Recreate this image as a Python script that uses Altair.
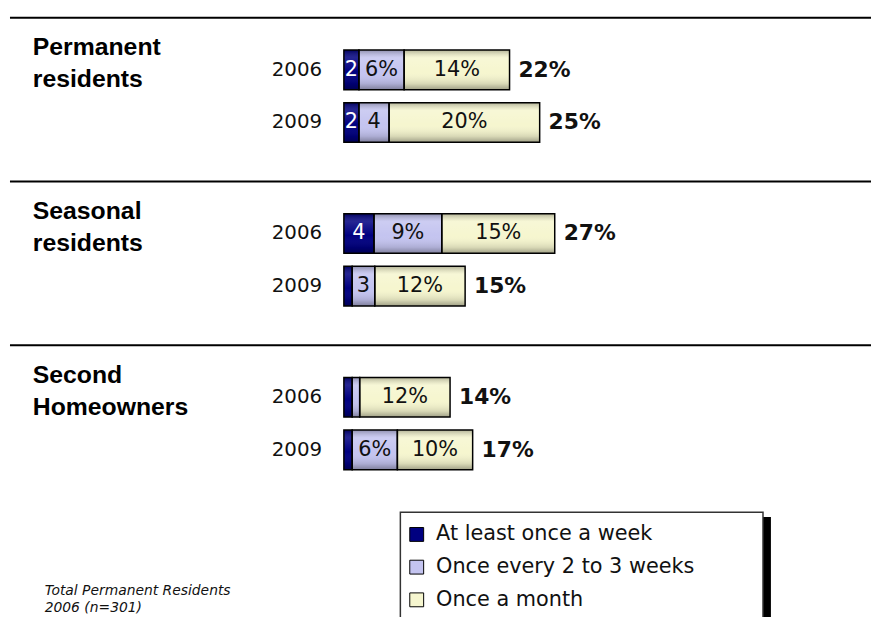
import altair as alt
import pandas as pd

# ---- data ----
groups = ["Permanent\nresidents", "Seasonal\nresidents", "Second\nHomeowners"]
years = ["2006", "2009"]
categories = ["At least once a week", "Once every 2 to 3 weeks", "Once a month"]
# one value per group-year row: Perm06, Perm09, Seas06, Seas09, Sec06, Sec09
weekly = [2, 2, 4, 1.1, 1.1, 1.1]
biweekly = [6, 4, 9, 3, 1.0, 6]
monthly = [14, 20, 15, 12, 12, 10]
weekly_labels = ["2", "2", "4", "", "", ""]
biweekly_labels = ["6%", "4", "9%", "3", "", "6%"]
monthly_labels = ["14%", "20%", "15%", "12%", "12%", "10%"]
totals = ["22%", "25%", "27%", "15%", "14%", "17%"]
colors = ["#000080", "#c4c4f0", "#f6f6cf"]
footnote = "Total Permanent Residents\n2006 (n=301)"

# ---- layout ----
W, H = 532, 607
UNIT = 54.0          # px per row slot
PERIOD = 168.0 / UNIT
XMAX = W / 7.6
YMAX = H / UNIT

seg_vals = [weekly, biweekly, monthly]
seg_labs = [weekly_labels, biweekly_labels, monthly_labels]

bar_rows, row_rows = [], []
for gi, g in enumerate(groups):
    for yi, yr in enumerate(years):
        idx = gi * 2 + yi
        slot = gi * PERIOD + 0.99 + yi
        for ci, cat in enumerate(categories):
            bar_rows.append({"row": idx, "slot": slot, "category": cat, "order": ci,
                             "value": seg_vals[ci][idx], "label": seg_labs[ci][idx]})
        row_rows.append({"row": idx, "slot": slot, "year": yr, "total": totals[idx],
                         "end": sum(v[idx] for v in seg_vals)})
bars_df = pd.DataFrame(bar_rows)
rows_df = pd.DataFrame(row_rows)
groups_df = pd.DataFrame({"group": groups, "gpos": [gi * PERIOD for gi in range(len(groups))]})
one = pd.DataFrame({"k": [0]})
foot_df = pd.DataFrame({"text": [footnote]})

xs = alt.Scale(domain=[0, XMAX], nice=False, zero=True)
ys = alt.Scale(domain=[0, YMAX], nice=False, zero=True, reverse=True)

base = alt.Chart(bars_df).transform_stack(
    stack="value", as_=["x0", "x1"], groupby=["row"],
    sort=[alt.SortField("order", order="ascending")]
).transform_calculate(mid="(datum.x0 + datum.x1) / 2")

X0 = alt.X("x0:Q", scale=xs, axis=None)
Y = alt.Y("slot:Q", scale=ys, axis=None)

fill_layer = base.mark_bar(size=40).encode(
    x=X0, x2="x1:Q", y=Y,
    color=alt.Color("category:N", scale=alt.Scale(domain=categories, range=colors),
                    legend=alt.Legend(title=None, orient="none", legendX=63, legendY=516,
                                      symbolType="square", symbolSize=196,
                                      symbolStrokeColor="black", symbolStrokeWidth=1,
                                      labelFont="DejaVu Sans", labelFontSize=21,
                                      labelColor="#111", labelOffset=9, rowPadding=11,
                                      padding=0, labelLimit=400)),
)

gloss = alt.Gradient(
    gradient="linear", x1=0, x2=0, y1=0, y2=1,
    stops=[alt.GradientStop(color="rgba(0,0,0,0.28)", offset=0),
           alt.GradientStop(color="rgba(255,255,255,0.15)", offset=0.2),
           alt.GradientStop(color="rgba(255,255,255,0.0)", offset=0.55),
           alt.GradientStop(color="rgba(0,0,0,0.12)", offset=0.85),
           alt.GradientStop(color="rgba(0,0,0,0.35)", offset=1)],
)
gloss_layer = base.mark_bar(size=40, fill=gloss, stroke="black", strokeWidth=1.5).encode(
    x=X0, x2="x1:Q", y=Y)

seg_text = base.mark_text(font="DejaVu Sans", fontSize=21, baseline="middle").encode(
    x=alt.X("mid:Q", scale=xs, axis=None), y=Y, text="label:N",
    color=alt.condition("datum.order == 0", alt.value("white"), alt.value("#111")),
)

tot_text = alt.Chart(rows_df).mark_text(font="DejaVu Sans", fontSize=22, fontWeight="bold",
                                        align="left", baseline="middle", dx=9, color="#111").encode(
    x=alt.X("end:Q", scale=xs, axis=None), y=Y, text="total:N")

year_text = alt.Chart(rows_df).mark_text(font="DejaVu Sans", fontSize=20, align="right",
                                         baseline="middle", color="#111").encode(
    x=alt.value(-22), y=Y, text="year:N")

rules = alt.Chart(groups_df).mark_rule(color="black", strokeWidth=2).encode(
    y=alt.Y("gpos:Q", scale=ys, axis=None), x=alt.value(-337), x2=alt.value(W))

titles = alt.Chart(groups_df).mark_text(font="Liberation Sans", fontSize=25, fontWeight="bold",
                                        align="left", baseline="alphabetic", lineBreak="\n",
                                        lineHeight=32, dy=38, color="black").encode(
    y=alt.Y("gpos:Q", scale=ys, axis=None), x=alt.value(-314), text="group:N")

legend_box = alt.Chart(one).mark_rect(fill="white", stroke="#333", strokeWidth=1.5).encode(
    x=alt.value(57), x2=alt.value(423), y=alt.value(504), y2=alt.value(660))
legend_shadow = alt.Chart(one).mark_rect(fill="black").encode(
    x=alt.value(423), x2=alt.value(431), y=alt.value(509), y2=alt.value(660))

foot = alt.Chart(foot_df).mark_text(font="DejaVu Sans", fontSize=14, fontStyle="italic",
                                    align="left", baseline="alphabetic", lineBreak="\n",
                                    lineHeight=17, color="#111").encode(
    x=alt.value(-302), y=alt.value(588), text="text:N")

chart = alt.layer(
    rules, titles, year_text, legend_shadow, legend_box, foot,
    fill_layer, gloss_layer, seg_text, tot_text
).properties(
    width=W, height=H,
    autosize=alt.AutoSizeParams(type="none"),
    padding={"left": 339, "top": 2, "right": 0, "bottom": 0},
).configure_view(stroke=None)

chart.save("out.html", embed_options={"renderer": "svg", "actions": False})
